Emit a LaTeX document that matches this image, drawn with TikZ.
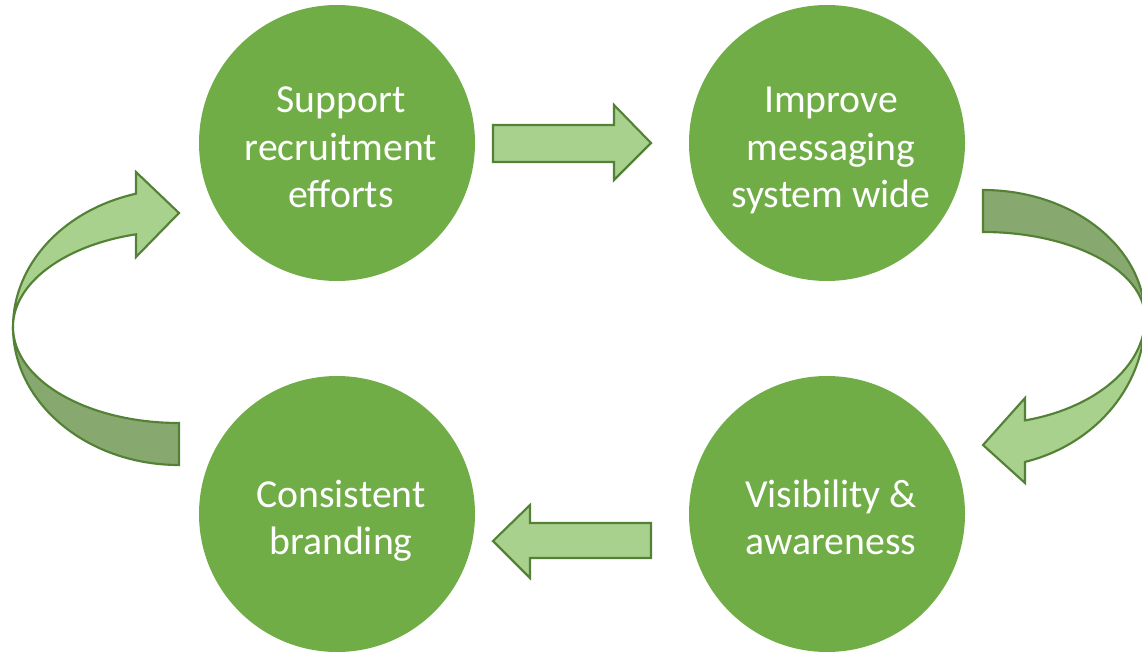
\documentclass[tikz,border=0pt]{standalone}
\usepackage{fontspec}
\setmainfont{Carlito}
\usetikzlibrary{calc}
\definecolor{circg}{HTML}{70AD47}
\definecolor{lightg}{HTML}{A9D18E}
\definecolor{darkg}{HTML}{87A96F}
\definecolor{edgeg}{HTML}{538135}
\begin{document}
\begin{tikzpicture}[x=0.75pt,y=-0.75pt,
  circ/.style={circle,fill=circg,minimum size=207pt,inner sep=0pt},
  circtext/.style={text=white,align=center,xshift=3pt,yshift=-5.7pt,
    font=\fontsize{29.8}{35.6}\selectfont},
  band/.style={draw=edgeg,line width=1.6pt,line join=miter},
  lightband/.style={band,fill=lightg},
  darkband/.style={band,fill=darkg}]
\useasboundingbox (0,0) rectangle (1142,652);
\clip (0,0) rectangle (1142,652);
% circles
\node[circ,label={[circtext]center:{\strut Support\\\strut recruitment\\\strut efforts}}] (c1) at (337,143) {};
\node[circ,label={[circtext]center:{\strut Improve\\\strut messaging\\\strut system wide}}] (c2) at (827,143) {};
\node[circ,label={[circtext]center:{\strut Visibility \&\\\strut awareness}}] (c3) at (827,514) {};
\node[circ,label={[circtext]center:{\strut Consistent\\\strut branding}}] (c4) at (337,514) {};
% straight block arrows
\draw[lightband] (493,125) -- (614,125) -- (614,105) -- (651,143) -- (614,180) -- (614,162) -- (493,162) -- cycle;
\draw[lightband] (651,523) -- (530,523) -- (530,505) -- (493,541) -- (530,578) -- (530,558) -- (651,558) -- cycle;
% left curved arrow
\draw[darkband] (13,327) arc[start angle=180,end angle=90,x radius=166,y radius=138]
  -- (179,423) arc[start angle=90,end angle=180,x radius=166,y radius=96] -- cycle;
\draw[lightband] (13,327) arc[start angle=180,end angle=255,x radius=166,y radius=138]
  -- (136,172) -- (179,213) -- (136,257) -- (136,234.3)
  arc[start angle=255,end angle=180,x radius=166,y radius=96] -- cycle;
% right curved arrow
\draw[darkband] (1145,318) arc[start angle=0,end angle=-90,x radius=162,y radius=128]
  -- (983,232) arc[start angle=-90,end angle=0,x radius=162,y radius=86] -- cycle;
\draw[lightband] (1145,318) arc[start angle=0,end angle=75,x radius=162,y radius=149]
  -- (1025,483) -- (983,445) -- (1025,398) -- (1025,420.4)
  arc[start angle=75,end angle=0,x radius=162,y radius=106] -- cycle;
\end{tikzpicture}
\end{document}
